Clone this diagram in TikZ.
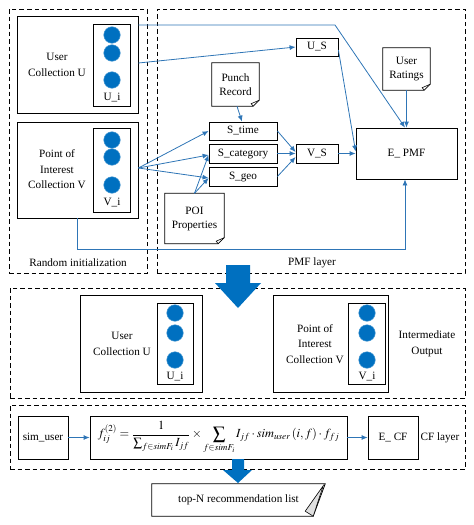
\documentclass[tikz,border=0pt]{standalone}
\usepackage{mathptmx}
\usepackage{fontspec}
\setmainfont{Liberation Serif}
\usetikzlibrary{arrows.meta,calc}
\definecolor{lblue}{RGB}{46,117,182}
\definecolor{cblue}{RGB}{0,112,192}
\newcommand{\mydocout}[1]{%
  \draw[line width=0.8pt] (#1.north west) -- (#1.north east) -- ([yshift=6pt]#1.south east) -- ([xshift=-6pt]#1.south east) -- (#1.south west) -- cycle;
  \draw[line width=0.6pt] ([yshift=6pt]#1.south east) -- ([xshift=-8pt,yshift=2.5pt]#1.south east) -- ([xshift=-6pt]#1.south east);}
\begin{document}
\begin{tikzpicture}[x=1pt,y=-1pt,
  font=\fontsize{11.2}{15.5}\selectfont,
  sz/.style 2 args={minimum width=#1pt, minimum height=#2pt},
  frame/.style={draw, dash pattern=on 4.5pt off 3pt, line width=0.7pt, inner sep=0pt},
  box/.style={draw, line width=0.8pt, inner sep=0pt, align=center},
  doc/.style={inner sep=0pt, align=center, font=\fontsize{11.2}{14}\selectfont},
  dot/.style={circle, fill=cblue, draw=cblue!75!white, line width=0.5pt, inner sep=0pt, minimum size=16.5pt},
  lbl/.style={inner sep=0pt, align=center},
  conn/.style={draw=lblue, line width=0.8pt, -{Latex[length=6pt,width=5pt]}},
  bigarrow/.style={fill=cblue}]
\useasboundingbox (0,0) rectangle (474,525);

% ---------- top section ----------
\node[frame, sz={138}{264}] (randframe) at (78,141) {};
\node[lbl] (randlbl) at (78,263) {Random initialization};
\node[frame, sz={308}{264}] (pmfframe) at (311,141) {};
\node[lbl] (pmflbl) at (312,263) {PMF layer};

\node[box, sz={121}{97}] (ucoll) at (77.5,64.5) {};
\node[lbl] (ucolltxt) at (57,65) {User\\Collection U};
\node[box, sz={37}{82}] (ui) at (111.5,65) {};
\node[dot] (u1) at (112,35) {};
\node[dot] (u2) at (112,53) {};
\node[dot] (u3) at (112,80) {};
\node[lbl] (uilbl) at (112,98) {U\_i};

\node[box, sz={121}{96}] (vcoll) at (77.5,170) {};
\node[lbl] (vcolltxt) at (57,169.5) {Point of\\Interest\\Collection V};
\node[box, sz={37}{84}] (vi) at (111.5,170) {};
\node[dot] (v1) at (112,140) {};
\node[dot] (v2) at (112,157) {};
\node[dot] (v3) at (112,185) {};
\node[lbl] (vilbl) at (112,203) {V\_i};

\node[box, sz={42}{18}] (us) at (317,47) {U\_S};
\node[doc, sz={47}{42}] (ur) at (406.5,69) {User\\Ratings};
\mydocout{ur}
\node[doc, sz={47}{43}] (pr) at (235.5,84.5) {Punch\\Record};
\mydocout{pr}
\node[box, sz={68}{18}] (stime) at (243,131) {S\_time};
\node[box, sz={68}{19}] (scat) at (243,153.5) {S\_category};
\node[box, sz={68}{19}] (sgeo) at (243,176.5) {S\_geo};
\node[box, sz={42}{19}] (vs) at (317,153.5) {V\_S};
\node[box, sz={101}{51}] (epmf) at (406.5,153.5) {E\_ PMF};
\node[doc, sz={59}{50}] (poi) at (194.5,218.5) {POI\\Properties};
\mydocout{poi}

\draw[conn] ([yshift=39.5pt]ucoll.east) -- (335,25) -- ([xshift=-1.5pt]epmf.north);
\draw[conn] ([yshift=1.5pt]ucoll.east) -- (us.west);
\draw[conn] ([yshift=-3pt]us.east) -- ([yshift=2pt]epmf.west);
\draw[conn] (vs.east) -- (epmf.west);
\draw[conn] ([xshift=1.5pt]pr.south) -- ([xshift=-1pt]stime.north);
\draw[conn] (stime.east) -- ([yshift=1.5pt]vs.west);
\draw[conn] (scat.east) -- (vs.west);
\draw[conn] (sgeo.east) -- ([yshift=-3.5pt]vs.west);
\coordinate (vfan) at ([yshift=2pt]vcoll.east);
\draw[conn] (vfan) -- (stime.west);
\draw[conn] (vfan) -- ([yshift=-1.5pt]scat.west);
\draw[conn] (vfan) -- ([yshift=-1.5pt]sgeo.west);
\draw[conn] (poi.north) -- ([yshift=-1.5pt]scat.west);
\draw[conn] (poi.north) -- ([yshift=-1.5pt]sgeo.west);
\coordinate (epb) at ([xshift=-1.5pt]epmf.south);
\draw[conn] (vcoll.south) -- (vcoll.south |- 0,249) -- (epb |- 0,249) -- (epb);
\draw[conn] (ur.south) -- (ur.south |- epmf.north);

% ---------- middle section ----------
\node[frame, sz={455}{110}] (midframe) at (237.5,343) {};
\node[box, sz={122}{97}] (uc2) at (141,343.5) {};
\node[lbl] (uc2txt) at (122,344) {User\\Collection U};
\node[box, sz={36}{81}] (uc2i) at (175,343.5) {};
\node[dot] (w1) at (175,313) {};
\node[dot] (w2) at (175,333) {};
\node[dot] (w3) at (175,360) {};
\node[lbl] (uc2lbl) at (175,377) {U\_i};

\node[box, sz={115}{97}] (vc2) at (330.5,343.5) {};
\node[lbl] (vc2txt) at (315,344) {Point of\\Interest\\Collection V};
\node[box, sz={37}{81}] (vc2i) at (366.5,343.5) {};
\node[dot] (x1) at (367,313) {};
\node[dot] (x2) at (367,333) {};
\node[dot] (x3) at (367,360) {};
\node[lbl] (vc2lbl) at (367,377) {V\_i};
\node[lbl] (interm) at (427,344) {Intermediate\\Output};

% big arrow 1
\fill[bigarrow] (226,265) -- (250,265) -- (250,283) -- (261,283) -- (238,308) -- (215,283) -- (226,283) -- cycle;

% ---------- bottom section ----------
\node[frame, sz={455}{64}] (cfframe) at (237.5,437) {};
\node[box, sz={50}{43}] (simuser) at (43,437.5) {sim\_user};
\node[box, sz={257}{43}, font=\fontsize{12.4}{14}\selectfont] (formula) at (218.5,437.5)
  {$\displaystyle f_{ij}^{(2)}=\frac{1}{\sum_{f\in simF_i} I_{jf}}\times\sum_{f\in simF_i} I_{jf}\cdot sim_{user}\left(i,f\right)\cdot f_{fj}$};
\node[box, sz={50}{43}] (ecf) at (393,437.5) {E\_ CF};
\node[lbl] (cflbl) at (440,438) {CF layer};
\draw[conn] (simuser) -- (formula);
\draw[conn] (formula) -- (ecf);

% big arrow 2
\fill[bigarrow] (232,459) -- (244,459) -- (244,470) -- (252,470) -- (238,483) -- (223,470) -- (232,470) -- cycle;

\node[lbl, sz={173}{32}] (topn) at (238.5,500) {top-N recommendation list};
\draw[line width=0.8pt] (topn.north west) -- (topn.north east) -- ([xshift=-12pt]topn.south east) -- (topn.south west) -- cycle;
\filldraw[fill=gray!25, line width=0.6pt] ([xshift=-2pt,yshift=-2pt]topn.north east) -- ([xshift=-20pt,yshift=5pt]topn.south east) -- ([xshift=-12pt]topn.south east) -- cycle;
\end{tikzpicture}
\end{document}
